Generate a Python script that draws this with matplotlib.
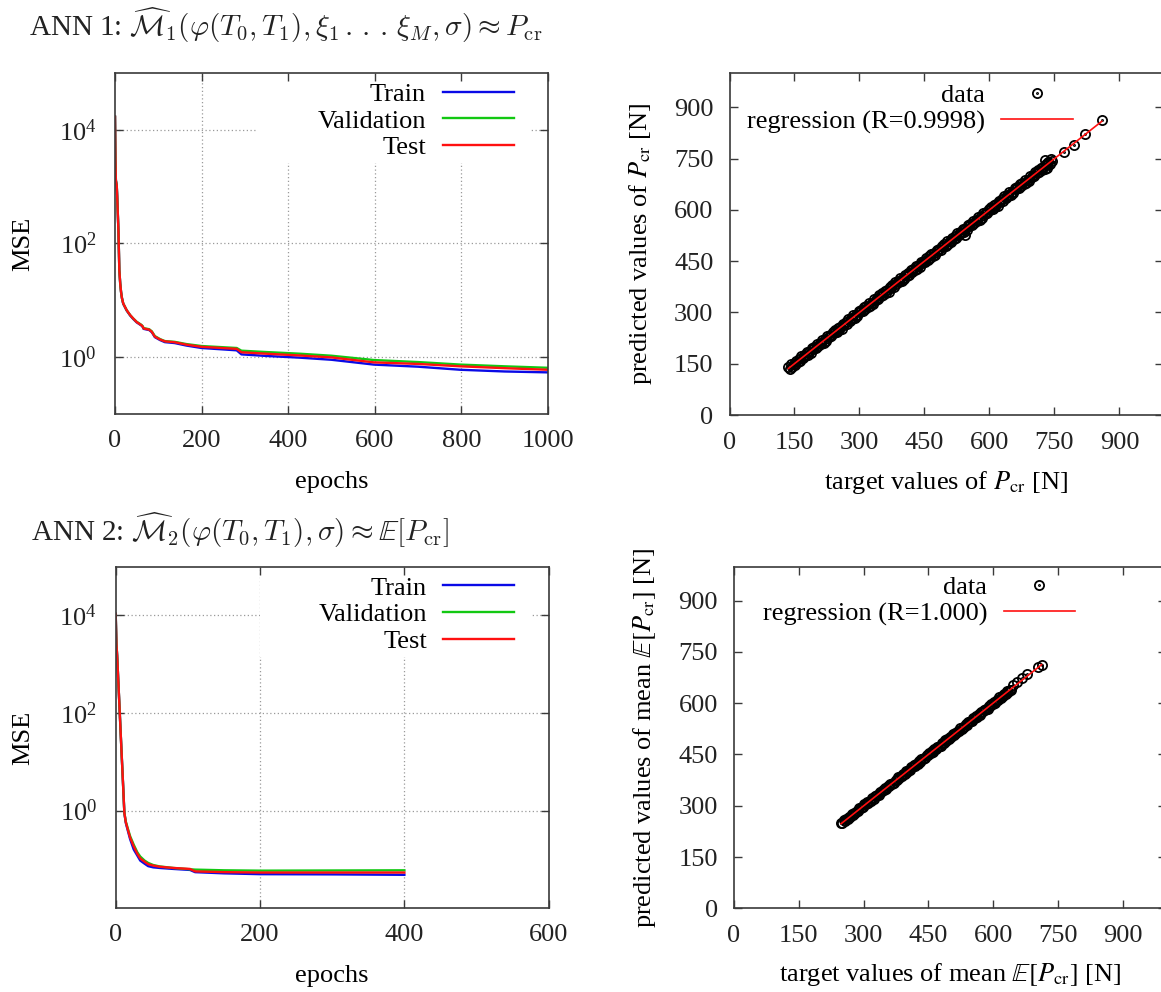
import numpy as np
import matplotlib
matplotlib.use("Agg")
import matplotlib.pyplot as plt
from matplotlib.path import Path
from matplotlib.patches import Rectangle
from matplotlib.ticker import NullLocator

# ---------------- data ----------------
# ANN 1 training history (MSE per epoch)
epochs_1 = [0, 1, 2, 4, 5, 8, 10, 12, 14, 16, 19, 27, 35, 42, 50, 61, 64, 66, 79, 85,
            92, 104, 115, 138, 165, 200, 281, 292, 350, 427, 500, 598, 700, 798, 900, 1000]
train_1 = [1.7e4, 3e3, 1.3e3, 1.05e3, 7e2, 1.6e2, 34, 20, 14, 11, 8.7, 6.6, 5.4, 4.7, 4.1, 3.6, 3.4, 3.15, 3.0, 2.75,
           2.25, 2.0, 1.84, 1.77, 1.6, 1.45, 1.32, 1.12, 1.05, 0.98, 0.9, 0.74, 0.68, 0.6, 0.56, 0.54]
valid_1 = [1.7e4, 3e3, 1.3e3, 1.05e3, 7e2, 1.6e2, 34, 20, 14, 11, 8.8, 6.7, 5.5, 4.8, 4.2, 3.7, 3.5, 3.25, 3.1, 2.85,
           2.35, 2.08, 1.92, 1.86, 1.7, 1.57, 1.45, 1.3, 1.23, 1.15, 1.06, 0.89, 0.82, 0.74, 0.69, 0.65]
test_1 = [1.7e4, 3e3, 1.3e3, 1.05e3, 7e2, 1.6e2, 34, 20, 14, 11, 8.8, 6.7, 5.5, 4.8, 4.15, 3.65, 3.45, 3.2, 3.05, 2.8,
          2.3, 2.05, 1.9, 1.83, 1.66, 1.52, 1.4, 1.22, 1.15, 1.07, 0.99, 0.81, 0.76, 0.69, 0.64, 0.60]

# ANN 2 training history
epochs_2 = [0, 1, 2, 5, 8, 10, 12, 14, 17, 20, 25, 30, 34, 40, 45, 52, 61, 80, 103, 110, 150, 200, 300, 400]
train_2 = [1.07e4, 2.6e3, 1.5e3, 1.6e2, 17, 4.0, 0.9, 0.56, 0.38, 0.26, 0.16, 0.12, 0.095, 0.082, 0.073, 0.069,
           0.067, 0.064, 0.061, 0.055, 0.052, 0.050, 0.0495, 0.0485]
valid_2 = [1.07e4, 2.6e3, 1.5e3, 1.6e2, 17, 4.0, 0.9, 0.6, 0.42, 0.3, 0.2, 0.14, 0.115, 0.095, 0.085, 0.077,
           0.072, 0.067, 0.063, 0.062, 0.060, 0.059, 0.0595, 0.060]
test_2 = [1.07e4, 2.6e3, 1.5e3, 1.6e2, 17, 4.0, 0.9, 0.58, 0.40, 0.28, 0.185, 0.13, 0.105, 0.09, 0.08, 0.075,
          0.071, 0.067, 0.064, 0.057, 0.055, 0.054, 0.054, 0.054]

# ANN 1 regression: target vs predicted P_cr [N]
target_1 = [136, 139, 142, 145, 148, 151, 154, 157, 160, 163, 166, 169,
            172, 175, 178, 181, 184, 187, 190, 193, 196, 199, 202, 205,
            208, 211, 214, 217, 220, 223, 226, 229, 232, 235, 238, 241,
            244, 247, 250, 253, 256, 259, 262, 265, 268, 271, 274, 277,
            280, 283, 286, 289, 292, 295, 298, 301, 304, 307, 310, 313,
            316, 319, 322, 325, 328, 331, 334, 337, 340, 343, 346, 349,
            352, 355, 358, 361, 364, 367, 370, 373, 376, 379, 382, 385,
            388, 391, 394, 397, 400, 403, 406, 409, 412, 415, 418, 421,
            424, 427, 430, 433, 436, 439, 442, 445, 448, 451, 454, 457,
            460, 463, 466, 469, 472, 475, 478, 481, 484, 487, 490, 493,
            496, 499, 502, 505, 508, 511, 514, 517, 520, 523, 526, 529,
            532, 535, 538, 541, 544, 547, 550, 553, 556, 559, 562, 565,
            568, 571, 574, 577, 580, 583, 586, 589, 592, 595, 598, 601,
            604, 607, 610, 613, 616, 619, 622, 625, 628, 631, 634, 637,
            640, 643, 646, 649, 652, 655, 658, 661, 664, 667, 670, 673,
            676, 679, 682, 685, 688, 691, 694, 697, 700, 703, 706, 709,
            712, 715, 718, 721, 724, 727, 730, 733, 736, 739, 742, 745,
            544, 733, 729, 771, 796, 821, 859]
predicted_1 = [140, 136, 148, 140, 149, 145, 159, 156, 163, 159, 172, 167,
               176, 172, 184, 176, 185, 181, 195, 192, 199, 195, 208, 203,
               212, 208, 220, 212, 221, 217, 231, 228, 235, 231, 244, 239,
               248, 244, 256, 248, 257, 253, 267, 264, 271, 267, 280, 275,
               284, 280, 292, 284, 293, 289, 303, 300, 307, 303, 316, 311,
               320, 316, 328, 320, 329, 325, 339, 336, 343, 339, 352, 347,
               356, 352, 364, 356, 365, 361, 375, 372, 379, 375, 388, 383,
               392, 388, 400, 392, 401, 397, 411, 408, 415, 411, 424, 419,
               428, 424, 436, 428, 437, 433, 447, 444, 451, 447, 460, 455,
               464, 460, 472, 464, 473, 469, 483, 480, 487, 483, 496, 491,
               500, 496, 508, 500, 509, 505, 519, 516, 523, 519, 532, 527,
               536, 532, 544, 536, 545, 541, 555, 552, 559, 555, 568, 563,
               572, 568, 580, 572, 581, 577, 591, 588, 595, 591, 604, 599,
               608, 604, 616, 608, 617, 613, 627, 624, 631, 627, 640, 635,
               644, 640, 652, 644, 653, 649, 663, 660, 667, 663, 676, 671,
               680, 676, 688, 680, 689, 685, 699, 696, 703, 699, 712, 707,
               716, 712, 724, 716, 725, 721, 735, 732, 739, 735, 748, 743,
               527, 722, 746, 771, 791, 823, 864]

# ANN 2 regression: target vs predicted mean E[P_cr] [N]
target_2 = [248, 251, 254, 257, 260, 263, 266, 269, 272, 275, 278, 281,
            284, 287, 290, 293, 296, 299, 302, 305, 308, 311, 314, 317,
            320, 323, 326, 329, 332, 335, 338, 341, 344, 347, 350, 353,
            356, 359, 362, 365, 368, 371, 374, 377, 380, 383, 386, 389,
            392, 395, 398, 401, 404, 407, 410, 413, 416, 419, 422, 425,
            428, 431, 434, 437, 440, 443, 446, 449, 452, 455, 458, 461,
            464, 467, 470, 473, 476, 479, 482, 485, 488, 491, 494, 497,
            500, 503, 506, 509, 512, 515, 518, 521, 524, 527, 530, 533,
            536, 539, 542, 545, 548, 551, 554, 557, 560, 563, 566, 569,
            572, 575, 578, 581, 584, 587, 590, 593, 596, 599, 602, 605,
            608, 611, 614, 617, 620, 623, 626, 629, 632, 635, 638, 641,
            646, 654, 667, 679, 704, 712]
predicted_2 = [250, 249, 257, 256, 260, 260, 268, 268, 275, 273, 279, 278,
               286, 285, 293, 292, 296, 296, 304, 304, 311, 309, 315, 314,
               322, 321, 329, 328, 332, 332, 340, 340, 347, 345, 351, 350,
               358, 357, 365, 364, 368, 368, 376, 376, 383, 381, 387, 386,
               394, 393, 401, 400, 404, 404, 412, 412, 419, 417, 423, 422,
               430, 429, 437, 436, 440, 440, 448, 448, 455, 453, 459, 458,
               466, 465, 473, 472, 476, 476, 484, 484, 491, 489, 495, 494,
               502, 501, 509, 508, 512, 512, 520, 520, 527, 525, 531, 530,
               538, 537, 545, 544, 548, 548, 556, 556, 563, 561, 567, 566,
               574, 573, 581, 580, 584, 584, 592, 592, 599, 597, 603, 602,
               610, 609, 617, 616, 620, 620, 628, 628, 635, 633, 639, 638,
               652, 663, 673, 685, 705, 712]

series_labels = ["Train", "Validation", "Test"]
series_colors = ["#0a0ae6", "#12c812", "#ff1010"]
mse_ticks = [1, 1e2, 1e4]
epoch_ticks_1 = [0, 200, 400, 600, 800, 1000]
epoch_ticks_2 = [0, 200, 400, 600]
p_ticks = [0, 150, 300, 450, 600, 750, 900]

title_1 = (r"ANN 1: $\widehat{\mathcal{M}}_1(\varphi(T_0,T_1),\xi_1\,.\,.\,.\,\xi_M,\sigma)"
           r"\approx P_{\mathrm{cr}}$")
title_2 = r"ANN 2: $\widehat{\mathcal{M}}_2(\varphi(T_0,T_1),\sigma)\approx\mathbb{E}[P_{\mathrm{cr}}]$"

# ---------------- style ----------------
plt.rcParams['font.family'] = ['Liberation Serif', 'DejaVu Serif']
plt.rcParams['mathtext.fontset'] = 'stix'

W, H = 1161, 992
fig = plt.figure(figsize=(W / 100, H / 100), dpi=100)
FS = 19
SPINE = '#3a3a3a'
GRID = '#9a9a9a'


def add_axes(l, t, r, b):
    return fig.add_axes([l / W, 1 - b / H, (r - l) / W, (b - t) / H])


def style(ax, xpad, ypad):
    for s in ax.spines.values():
        s.set_color(SPINE)
        s.set_linewidth(1.2)
    ax.tick_params(which='major', direction='in', top=True, right=True, length=6, width=1.0,
                   color=SPINE, labelsize=FS, labelcolor='#222222')
    ax.tick_params(axis='x', pad=xpad)
    ax.tick_params(axis='y', pad=ypad)


def mse_panel(ax, epochs, tr, va, te, xticks, xgrid, ymin, box):
    ax.set_yscale('log')
    ax.set_ylim(ymin, 1e5)
    ax.set_xlim(xticks[0], xticks[-1])
    ax.set_xticks(xticks)
    ax.set_yticks(mse_ticks)
    ax.yaxis.set_minor_locator(NullLocator())
    ax.xaxis.set_minor_locator(NullLocator())
    for xv in xgrid:
        ax.axvline(xv, color=GRID, lw=0.9, ls=(0, (1, 2)), zorder=0.6)
    for yv in mse_ticks:
        ax.axhline(yv, color=GRID, lw=0.9, ls=(0, (1, 2)), zorder=0.6)
    ax.add_patch(Rectangle((box[0], box[1]), box[2], box[3], transform=ax.transAxes,
                           facecolor='white', edgecolor='none', zorder=0.8))
    handles = []
    for ys, lab, col in zip([tr, va, te], series_labels, series_colors):
        h, = ax.plot(epochs, ys, color=col, lw=1.7, label=lab, zorder=2)
        handles.append(h)
    ax.legend(handles=handles, loc='upper right', bbox_to_anchor=(0.921, 0.972),
              frameon=False, markerfirst=False, handlelength=2.7, handletextpad=0.62,
              labelspacing=0.12, borderpad=0, borderaxespad=0, fontsize=FS)
    style(ax, 11.5, 13.5)
    ax.set_xlabel('epochs', fontsize=FS, va='center')
    ax.set_ylabel('MSE', fontsize=FS, va='center', ha='center')


# ---------- top-left ----------
ax1 = add_axes(115, 73, 548, 414)
mse_panel(ax1, epochs_1, train_1, valid_1, test_1, epoch_ticks_1, [200, 400, 600, 800], 1e-1,
          (0.330, 0.736, 0.628, 0.27))
ax1.xaxis.set_label_coords(0.5, (414 - 482) / 341)
ax1.yaxis.set_label_coords((23 - 115) / 433, 0.5)

# ---------- bottom-left ----------
ax3 = add_axes(115.7, 566.5, 548.7, 908.3)
mse_panel(ax3, epochs_2, train_2, valid_2, test_2, epoch_ticks_2, [200, 400], 1e-2,
          (0.333, 0.736, 0.625, 0.27))
ax3.xaxis.set_label_coords(0.5, (908.3 - 976) / 341.8)
ax3.yaxis.set_label_coords((23 - 115.7) / 433, 0.5)

# ---------- scatter panels ----------
circ_dot = Path.make_compound_path(Path.unit_circle(), Path.circle((0, 0), 0.12))


def scatter_panel(ax, tx, py, rlabel, anchor):
    ax.set_xlim(0, 1000)
    ax.set_ylim(0, 1000)
    ax.set_xticks(p_ticks)
    ax.set_yticks(p_ticks)
    hd, = ax.plot(tx, py, ls='none', marker=circ_dot, ms=6.6, mfc='none', mec='black',
                  mew=1.3, label='data', zorder=2)
    slope, icpt = np.polyfit(tx, py, 1)
    xr = np.array([min(tx), max(tx)])
    hr, = ax.plot(xr, slope * xr + icpt, color='#ff1010', lw=1.2, label=rlabel, zorder=3)
    ax.legend(handles=[hd, hr], loc='upper right', bbox_to_anchor=anchor, frameon=False,
              markerfirst=False, handlelength=2.7, handletextpad=0.62, labelspacing=0.12,
              borderpad=0, borderaxespad=0, fontsize=FS, numpoints=1)
    style(ax, 12, 11.5)


ax2 = add_axes(729.5, 73.3, 1162.8, 415)
scatter_panel(ax2, target_1, predicted_1, 'regression (R=0.9998)', (0.792, 0.970))
ax2.set_xlabel(r'target values of $P_{\mathrm{cr}}$ [N]', fontsize=FS, va='center')
ax2.set_ylabel(r'predicted values of $P_{\mathrm{cr}}$ [N]', fontsize=FS, va='center', ha='center')
ax2.xaxis.set_label_coords(0.5, (415 - 482.5) / 341.7)
ax2.yaxis.set_label_coords((641 - 729.5) / 433.3, 0.5)

ax4 = add_axes(734, 566.5, 1166, 908.3)
scatter_panel(ax4, target_2, predicted_2, 'regression (R=1.000)', (0.789, 0.974))
ax4.set_xlabel(r'target values of mean $\mathbb{E}[P_{\mathrm{cr}}]$ [N]', fontsize=FS, va='center')
ax4.set_ylabel(r'predicted values of mean $\mathbb{E}[P_{\mathrm{cr}}]$ [N]', fontsize=FS,
               va='center', ha='center')
ax4.xaxis.set_label_coords(0.5, (908.3 - 975) / 341.8)
ax4.yaxis.set_label_coords((644.6 - 734) / 432, 0.5)

# ---------- titles ----------
fig.text(28.7 / W, 1 - 36 / H, title_1, fontsize=21, va='baseline', ha='left',
         math_fontfamily='cm', color='#222222')
fig.text(30.6 / W, 1 - 541 / H, title_2, fontsize=21, va='baseline', ha='left',
         math_fontfamily='cm', color='#222222')

fig.savefig('out.png', dpi=100, facecolor='white')
